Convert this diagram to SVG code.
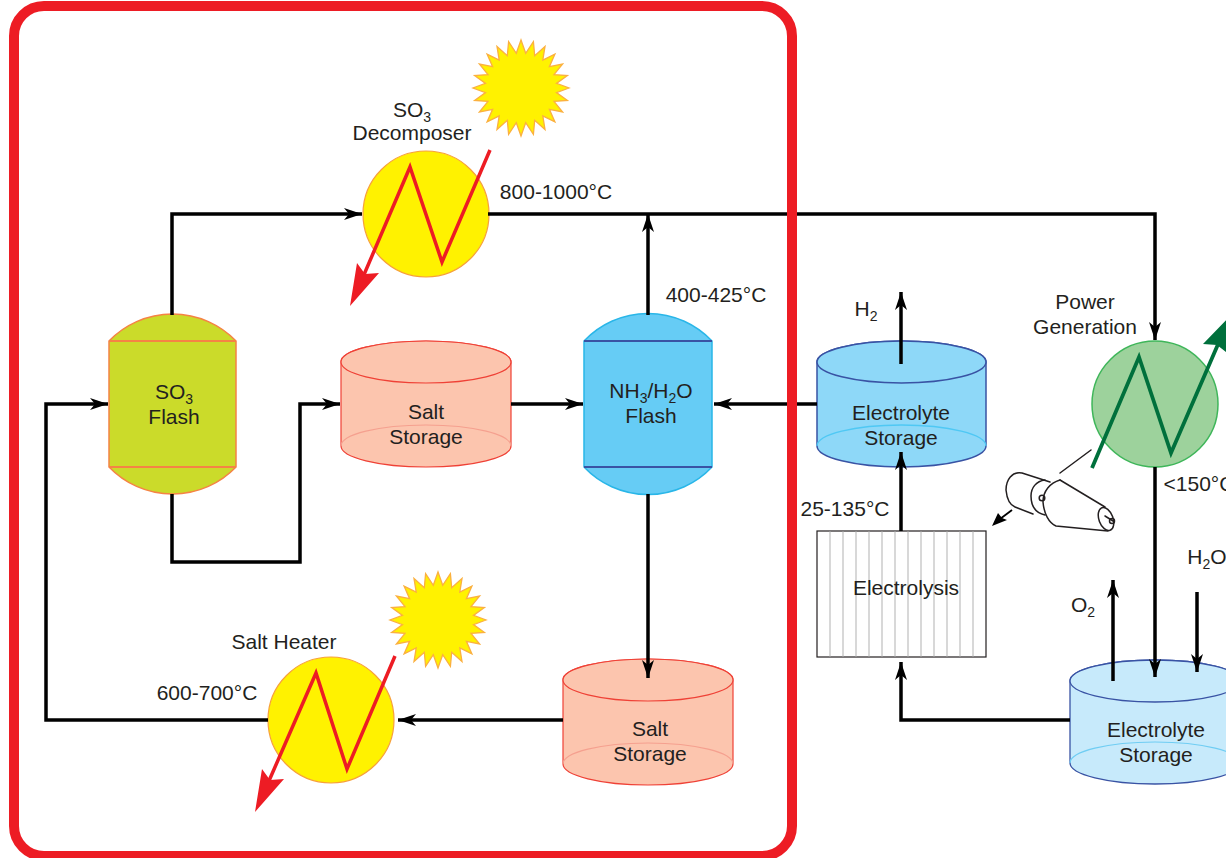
<svg xmlns="http://www.w3.org/2000/svg" width="1226" height="858" viewBox="0 0 1226 858">
<style>
text{font-family:"Liberation Sans",Arial,sans-serif;font-size:21px;fill:#231f20;text-anchor:middle}
.sub{font-size:14px}
.c{fill:none;stroke:#000;stroke-width:3.5;stroke-linejoin:miter}
.t{fill:none;stroke:#231f20;stroke-width:1.5;stroke-linecap:round;stroke-linejoin:round}
.sun{fill:#fff200;stroke:#fbb040;stroke-width:1.3}
.hot{fill:#fff200;stroke:#f7a13a;stroke-width:1.2}
.zr{fill:none;stroke:#ed1c24;stroke-width:3.5;stroke-linejoin:miter}
.zg{fill:none;stroke:#00703c;stroke-width:3.8;stroke-linejoin:miter}
.salt{fill:#fcc5ae;stroke:#ef4136;stroke-width:1.2}
.saltb{fill:none;stroke:#f5a08f;stroke-width:1.1}
.el1{fill:#8ed8f8;stroke:#3953a4;stroke-width:1.5}
.el1b{fill:none;stroke:#4fc8f4;stroke-width:1.3}
.el2{fill:#c7eafb;stroke:#3953a4;stroke-width:1.3}
.el2b{fill:none;stroke:#6fcdf3;stroke-width:1.2}
.grid{stroke:#a8a8a8;stroke-width:.9;fill:none}
</style>
<defs>
<marker id="a" markerUnits="userSpaceOnUse" markerWidth="22" markerHeight="16" refX="18" refY="8" orient="auto"><path d="M0 2L18 8L0 14L5 8Z" fill="#000"/></marker>
<polygon id="star" points="48,0 35.500,4.6 46.4,12.4 33,13.4 41.600,24 28.4,21.3 33.9,33.9 21.8,27.8 24,41.6 13.7,32.3 12.4,46.4 4.7,34.7 0,48 -4.7,34.7 -12.4,46.4 -13.7,32.3 -24,41.6 -21.8,27.8 -33.9,33.9 -28.4,21.3 -41.6,24 -33,13.4 -46.4,12.4 -35.500,4.6 -48,0 -35.500,-4.6 -46.4,-12.4 -33,-13.4 -41.6,-24 -28.4,-21.3 -33.9,-33.9 -21.8,-27.8 -24,-41.6 -13.7,-32.3 -12.4,-46.4 -4.7,-34.7 0,-48 4.7,-34.7 12.4,-46.4 13.7,-32.3 24,-41.6 21.8,-27.8 33.9,-33.9 28.4,-21.3 41.6,-24 33,-13.4 46.4,-12.4 35.500,-4.6"/>
</defs>
<rect width="1226" height="858" fill="#fff"/>

<g id="sun-1"><use href="#star" class="sun" x="521" y="88"/></g>
<g id="sun-2"><use href="#star" class="sun" x="438" y="620"/></g>

<g id="so3-decomposer">
<circle class="hot" cx="426" cy="214" r="63"/>
<path class="zr" d="M490 150L442 262L410 167L360 284"/>
<path d="M350 306L357 263L365 274L379 273Z" fill="#ed1c24"/>
<text x="412" y="117">SO<tspan class="sub" dy="5">3</tspan></text>
<text x="412" y="140">Decomposer</text>
</g>
<text x="556" y="199">800-1000°C</text>
<text x="716" y="302">400-425°C</text>

<g id="so3-flash">
<path d="M109 341A88 88 0 0 1 236 341V467A88 88 0 0 1 109 467Z" fill="#cbdb2a" stroke="#f58345" stroke-width="1.5"/>
<path d="M109 341H236M109 467H236" stroke="#f58345" stroke-width="2" fill="none"/>
<text x="174" y="399">SO<tspan class="sub" dy="5">3</tspan></text>
<text x="174" y="424">Flash</text>
</g>

<g id="salt-storage-1">
<path class="salt" d="M341 362A85 21 0 0 1 511 362V446A85 21 0 0 1 341 446Z"/>
<ellipse class="salt" cx="426" cy="362" rx="85" ry="21"/>
<path class="saltb" d="M341 446A85 21 0 0 1 511 446"/>
<text x="426" y="419">Salt</text>
<text x="426" y="444">Storage</text>
</g>

<g id="nh3-flash">
<path d="M584 341A88 88 0 0 1 712 341V467A88 88 0 0 1 584 467Z" fill="#66ccf5" stroke="#29b6e8" stroke-width="1.5"/>
<path d="M584 341H712M584 467H712" stroke="#3953a4" stroke-width="2" fill="none"/>
<text x="651" y="398">NH<tspan class="sub" dy="5">3</tspan><tspan dy="-5">/H</tspan><tspan class="sub" dy="5">2</tspan><tspan dy="-5">O</tspan></text>
<text x="651" y="423">Flash</text>
</g>

<g id="electrolyte-storage-1">
<path class="el1" d="M817 362A84.500 21 0 0 1 986 362V446A84.500 21 0 0 1 817 446Z"/>
<ellipse class="el1" cx="901.500" cy="362" rx="84.500" ry="21"/>
<path class="el1b" d="M817 446A84.500 21 0 0 1 986 446"/>
<text x="901" y="420">Electrolyte</text>
<text x="901" y="445">Storage</text>
</g>
<text x="866" y="316">H<tspan class="sub" dy="5">2</tspan></text>

<g id="power-generation">
<circle cx="1155" cy="404" r="63" fill="#9dd29c" stroke="#3fb65a" stroke-width="1.5"/>
<path class="zg" d="M1092 468L1139 357L1171 453L1219 342"/>
<path d="M1238 308L1226 352L1217 345L1203 344Z" fill="#00703c"/>
<text x="1085" y="309">Power</text>
<text x="1085" y="334">Generation</text>
</g>
<text x="1199" y="491">&lt;150°C</text>

<g id="turbine">
<path class="t" d="M1091 450L1060 473"/>
<path class="t" d="M1050 482L1022 473C1012 471 1006 480 1006 490C1007 500 1010 505 1015 507L1033 514"/>
<path class="t" d="M1045 480C1036 481 1031 488 1031 496C1031 506 1036 513 1045 515"/>
<path class="t" d="M1060 480C1050 483 1043 491 1043 502C1044 514 1049 523 1056 526L1108 531"/>
<path class="t" d="M1060 480L1105 507"/>
<ellipse class="t" cx="1106" cy="519" rx="7" ry="12" transform="rotate(-20 1106 519)"/>
<path class="t" d="M1105 516L1113 521"/>
<circle class="t" cx="1112" cy="521" r="2.500"/>
<circle class="t" cx="1042" cy="498" r="2.800"/>
<path d="M1012 510L1000 519" stroke="#000" stroke-width="1.800" fill="none"/>
<path d="M992 526L998 513L1002 518L1007 520Z" fill="#000"/>
</g>

<text x="845" y="516">25-135°C</text>

<g id="electrolysis">
<rect x="817" y="531" width="169" height="126" fill="#fff" stroke="#231f20" stroke-width="1.2"/>
<path class="grid" d="M830 531V657M843 531V657M856 531V657M869 531V657M882 531V657M895 531V657M908 531V657M921 531V657M934 531V657M947 531V657M960 531V657M973 531V657"/>
<text x="906" y="595">Electrolysis</text>
</g>

<text x="1083" y="612">O<tspan class="sub" dy="5">2</tspan></text>
<text x="1207" y="564">H<tspan class="sub" dy="5">2</tspan><tspan dy="-5">O</tspan></text>

<g id="electrolyte-storage-2">
<path class="el2" d="M1070 681A85 21 0 0 1 1240 681V763A85 21 0 0 1 1070 763Z"/>
<ellipse class="el2" cx="1155" cy="681" rx="85" ry="21"/>
<path class="el2b" d="M1070 763A85 21 0 0 1 1240 763"/>
<text x="1156" y="737">Electrolyte</text>
<text x="1156" y="762">Storage</text>
</g>

<g id="salt-storage-2">
<path class="salt" d="M563 680A85 21 0 0 1 733 680V764A85 21 0 0 1 563 764Z"/>
<ellipse class="salt" cx="648" cy="680" rx="85" ry="21"/>
<path class="saltb" d="M563 764A85 21 0 0 1 733 764"/>
<text x="650" y="736">Salt</text>
<text x="650" y="761">Storage</text>
</g>

<g id="salt-heater">
<circle class="hot" cx="331" cy="720" r="63"/>
<path class="zr" d="M395 656L347 769L316 673L265 790"/>
<path d="M255 812L262 769L270 780L284 779Z" fill="#ed1c24"/>
<text x="284" y="649">Salt Heater</text>
</g>
<text x="207" y="700">600-700°C</text>

<g id="connectors">
<path class="c" marker-end="url(#a)" d="M172 315V214H362"/>
<path class="c" marker-end="url(#a)" d="M488 214H1155V340"/>
<path class="c" marker-end="url(#a)" d="M648 315V214"/>
<path class="c" marker-end="url(#a)" d="M172 494V562H300V404H340"/>
<path class="c" marker-end="url(#a)" d="M511 404H583"/>
<path class="c" marker-end="url(#a)" d="M817 404H714"/>
<path class="c" marker-end="url(#a)" d="M648 494V678"/>
<path class="c" marker-end="url(#a)" d="M563 720H398"/>
<path class="c" marker-end="url(#a)" d="M268 720H46V404H108"/>
<path class="c" marker-end="url(#a)" d="M901 531V452"/>
<path class="c" marker-end="url(#a)" d="M901 364V292"/>
<path class="c" marker-end="url(#a)" d="M1155 467V677"/>
<path class="c" marker-end="url(#a)" d="M1070 720H901V662"/>
<path class="c" marker-end="url(#a)" d="M1113 681V580"/>
<path class="c" marker-end="url(#a)" d="M1197 592V672"/>
</g>

<g id="border"><rect x="14" y="6" width="778" height="850" rx="30" fill="none" stroke="#ed1c24" stroke-width="10"/></g>
</svg>
